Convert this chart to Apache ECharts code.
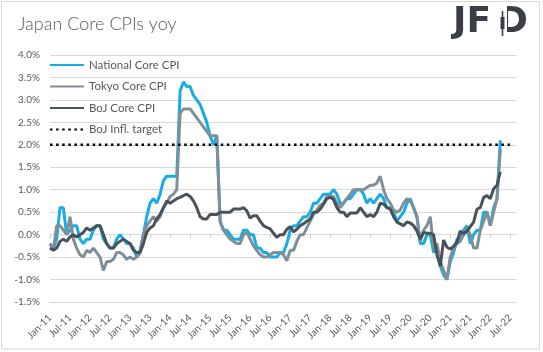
<!DOCTYPE html>
<html><head><meta charset="utf-8">
<script src="https://cdn.jsdelivr.net/npm/echarts@6/dist/echarts.min.js"></script>
<style>html,body{margin:0;padding:0;background:#fff}#c{width:543px;height:352px}</style>
</head><body><div id="c"></div>
<script>
// ---- data ----
const monthNames = ['Jan','Feb','Mar','Apr','May','Jun','Jul','Aug','Sep','Oct','Nov','Dec'];
const firstYear = 2011, lastYear = 2022, lastMonthIndex = 8; // axis runs Jan-11 .. Sep-22
const categories = [];
for (let y = firstYear; y <= lastYear; y++) {
  for (let m = 0; m < 12; m++) {
    if (y === lastYear && m > lastMonthIndex) break;
    categories.push(monthNames[m] + '-' + String(y).slice(2));
  }
}
// yoy %, monthly from Jan-11
const national = [
  -0.2,-0.3,-0.1,0.6,0.6,0.0,0.1,0.2,0.2,-0.1,-0.2,-0.1,
  -0.1,0.1,0.2,0.2,-0.1,-0.2,-0.3,-0.3,-0.1,0.0,-0.1,-0.2,
  -0.2,-0.3,-0.5,-0.4,0.0,0.4,0.7,0.8,0.7,0.9,1.2,1.3,
  1.3,1.3,1.3,3.2,3.4,3.3,3.3,3.1,3.0,2.9,2.7,2.5,
  2.2,2.0,2.2,0.3,0.1,0.1,0.0,-0.1,-0.1,-0.1,0.1,0.1,
  0.0,0.0,-0.3,-0.3,-0.4,-0.4,-0.5,-0.5,-0.5,-0.4,-0.4,-0.2,
  0.1,0.2,0.2,0.3,0.4,0.4,0.5,0.7,0.7,0.8,0.9,0.9,
  0.9,1.0,0.9,0.7,0.7,0.8,0.8,0.9,1.0,1.0,0.9,0.7,
  0.8,0.7,0.8,0.9,0.8,0.6,0.6,0.5,0.3,0.4,0.5,0.7,
  0.8,0.6,0.4,-0.2,-0.2,0.0,0.0,-0.4,-0.3,-0.7,-0.9,-1.0,
  -0.6,-0.4,-0.1,-0.1,0.1,0.2,-0.2,0.0,0.1,0.1,0.5,0.5,
  0.2,0.6,0.8,2.1
];
const tokyo = [
  -0.2,-0.35,0.2,0.2,0.1,0.0,0.4,-0.1,-0.3,-0.45,-0.5,-0.35,
  -0.4,-0.3,-0.4,-0.5,-0.8,-0.6,-0.6,-0.55,-0.4,-0.4,-0.45,-0.55,
  -0.5,-0.55,-0.5,-0.35,0.0,0.2,0.3,0.4,0.3,0.4,0.6,0.7,
  0.85,0.9,1.0,2.7,2.8,2.8,2.8,2.7,2.6,2.5,2.4,2.3,
  2.2,2.2,2.2,0.3,0.1,0.0,-0.1,-0.15,-0.2,-0.2,0.0,0.05,
  -0.1,-0.25,-0.35,-0.45,-0.5,-0.5,-0.45,-0.4,-0.4,-0.4,-0.45,-0.58,
  -0.35,-0.35,-0.15,0.0,0.0,0.15,0.3,0.45,0.55,0.65,0.7,0.85,
  0.85,0.85,0.7,0.6,0.7,0.8,0.9,1.0,1.0,1.0,1.0,1.05,
  1.1,1.1,1.15,1.3,1.0,0.8,0.7,0.55,0.5,0.55,0.7,0.8,
  0.75,0.6,0.4,-0.15,0.1,0.2,0.4,-0.3,-0.2,-0.6,-0.8,-1.0,
  -0.5,-0.3,-0.2,-0.15,0.0,0.15,0.0,-0.3,-0.3,0.1,0.3,0.5,
  0.2,0.5,0.8,1.9
];
const bojCore = [
  -0.3,-0.35,-0.3,-0.15,-0.1,-0.15,-0.05,0.0,-0.05,0.0,0.05,0.15,
  0.1,0.15,0.2,0.2,0.0,-0.2,-0.3,-0.3,-0.2,-0.15,-0.1,-0.15,
  -0.2,-0.35,-0.4,-0.4,-0.2,0.05,0.15,0.2,0.35,0.45,0.6,0.75,
  0.7,0.75,0.8,0.83,0.87,0.9,0.85,0.75,0.6,0.4,0.35,0.35,
  0.45,0.45,0.45,0.5,0.5,0.5,0.5,0.57,0.57,0.57,0.6,0.53,
  0.37,0.42,0.42,0.3,0.2,0.16,0.13,0.03,-0.06,0.0,0.0,0.12,
  0.18,0.06,0.12,0.2,0.24,0.3,0.35,0.5,0.5,0.57,0.68,0.8,
  0.83,0.78,0.6,0.5,0.5,0.4,0.48,0.48,0.48,0.6,0.5,0.4,
  0.45,0.4,0.5,0.7,0.68,0.6,0.57,0.4,0.28,0.24,0.2,0.28,
  0.26,0.2,0.08,-0.1,0.05,0.03,0.03,0.0,-0.45,-0.7,-0.12,-0.28,
  -0.32,-0.26,-0.17,0.08,0.02,0.08,0.18,0.28,0.57,0.6,0.83,0.87,
  0.8,1.02,1.1,1.4
];
const targetPoints = [['Jan-11', 2.0], ['Jul-22', 2.0]];
const seriesNames = ['National Core CPI', 'Tokyo Core CPI', 'BoJ Core CPI', 'BoJ Infl. target'];
const yMin = -1.5, yMax = 4.0, yStep = 0.5;

// ---- chart ----
const chart = echarts.init(document.getElementById('c'), null, {renderer: 'canvas'});
const txt = '#595959';
const font = 'Lato';
const lineW = 3;
const logoColor = '#3a3f47';
const logoStyle = {fontFamily: 'DejaVu Sans', fontWeight: 'bold', fontSize: 36, fill: logoColor};
chart.setOption({
  animation: false,
  backgroundColor: '#fff',
  title: {
    text: 'Japan Core CPIs yoy', left: 13, top: 10,
    textStyle: {fontFamily: font, fontWeight: 300, fontSize: 18, color: txt}
  },
  graphic: [
    {type: 'rect', shape: {x: 1.5, y: 1.5, width: 538, height: 347.5}, style: {fill: 'none', stroke: '#d9d9d9', lineWidth: 1}, silent: true},
    {type: 'text', left: 453, top: 5, z: 10, style: Object.assign({text: 'JF'}, logoStyle)},
    {type: 'text', left: 498, top: 5, z: 10, style: Object.assign({text: 'D'}, logoStyle)},
    {type: 'rect', z: 11, shape: {x: 499.5, y: 6, width: 7.5, height: 34}, style: {fill: '#fff'}},
    {type: 'line', z: 12, shape: {x1: 502.5, y1: 11, x2: 502.5, y2: 36}, style: {stroke: logoColor, lineWidth: 1.6}},
    {type: 'rect', z: 12, shape: {x: 500.5, y: 17, width: 4, height: 12}, style: {fill: logoColor}}
  ],
  legend: {
    orient: 'vertical', left: 49, top: 59, padding: 0, itemWidth: 34, itemHeight: 14, itemGap: 9.5,
    selectedMode: false,
    itemStyle: {opacity: 0},
    textStyle: {fontFamily: font, fontSize: 11.5, color: txt},
    data: seriesNames
  },
  grid: {left: 50, right: 26, top: 55, bottom: 50, containLabel: false, outerBoundsMode: 'none'},
  xAxis: {
    type: 'category', data: categories, boundaryGap: false,
    axisLine: {onZero: true, lineStyle: {color: '#d9d9d9', width: 1}},
    axisTick: {show: true, length: 4, interval: (i) => i % 6 === 0, lineStyle: {color: '#d0d0d0'}},
    axisLabel: {interval: (i) => i % 6 === 0, rotate: 45, margin: 14, color: txt, fontFamily: font, fontSize: 10},
    splitLine: {show: false}
  },
  yAxis: {
    type: 'value', min: yMin, max: yMax, interval: yStep,
    axisLine: {show: false}, axisTick: {show: false},
    axisLabel: {formatter: (v) => v.toFixed(1) + '%', color: txt, fontFamily: font, fontSize: 10, margin: 10},
    splitLine: {lineStyle: {color: '#d9d9d9', width: 1}}
  },
  series: [
    {name: seriesNames[0], type: 'line', data: national, symbol: 'none', lineStyle: {width: lineW, color: '#17ADE3'}, itemStyle: {color: '#17ADE3'}},
    {name: seriesNames[1], type: 'line', data: tokyo, symbol: 'none', lineStyle: {width: lineW, color: '#7F8F99'}, itemStyle: {color: '#7F8F99'}},
    {name: seriesNames[2], type: 'line', data: bojCore, symbol: 'none', lineStyle: {width: lineW, color: '#49525B'}, itemStyle: {color: '#49525B'}},
    {name: seriesNames[3], type: 'line', data: targetPoints, symbol: 'none', lineStyle: {width: 2.5, color: '#000', type: [2.5, 3.6]}, itemStyle: {color: '#000'}}
  ]
});
</script></body></html>
